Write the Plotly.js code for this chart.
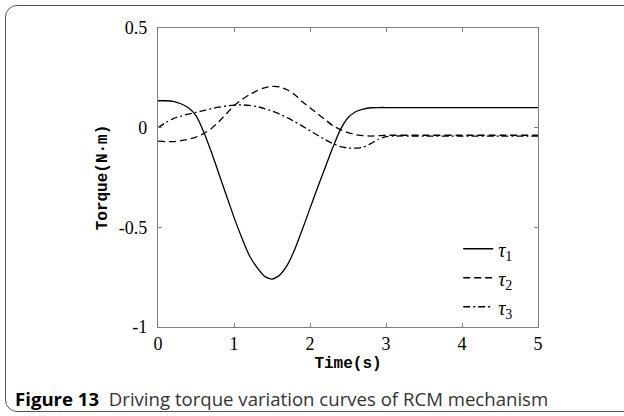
<!DOCTYPE html>
<html>
<head>
<meta charset="utf-8">
<script src="https://cdn.plot.ly/plotly-3.0.1.min.js"></script>
<style>
  html, body { margin: 0; padding: 0; background: #fff; }
  #wrap { position: relative; width: 624px; height: 416px; overflow: hidden; }
  #frame { position: absolute; left: 5px; top: 5px; width: 640px; height: 407px;
           border: 1.5px solid #555; border-radius: 12px; box-sizing: border-box; pointer-events: none; z-index: 2; }
  #chart { position: absolute; left: 0; top: 0; width: 624px; height: 416px; }
</style>
</head>
<body>
<div id="wrap"><div id="chart"></div><div id="frame"></div></div>
<script>
// Time (s)
const time = [0,0.1,0.2,0.3,0.4,0.5,0.6,0.7,0.8,0.9,1.0,1.1,1.2,1.3,1.4,1.5,1.6,1.7,1.8,1.9,2.0,
              2.1,2.2,2.3,2.4,2.5,2.6,2.7,2.8,2.9,3.0,3.1,3.5,4.0,4.5,5.0];
// Driving torques (N·m)
const tau1 = [0.135,0.135,0.132,0.12,0.1,0.06,-0.02,-0.12,-0.23,-0.34,-0.45,-0.55,-0.64,-0.7,-0.745,-0.76,
              -0.74,-0.69,-0.61,-0.51,-0.405,-0.3,-0.2,-0.1,-0.01,0.05,0.08,0.093,0.1,0.101,0.101,0.101,0.101,0.101,0.101,0.101];
const tau2 = [-0.068,-0.07,-0.07,-0.065,-0.058,-0.047,-0.03,-0.005,0.03,0.07,0.11,0.14,0.165,0.185,0.2,0.207,
              0.205,0.19,0.165,0.13,0.1,0.07,0.04,0.01,-0.01,-0.025,-0.035,-0.04,-0.042,-0.04,-0.038,-0.038,-0.038,-0.038,-0.038,-0.038];
const tau3 = [0,0.025,0.045,0.058,0.068,0.077,0.086,0.095,0.103,0.109,0.113,0.114,0.112,0.106,0.096,0.083,
              0.068,0.05,0.03,0.008,-0.015,-0.038,-0.06,-0.08,-0.095,-0.102,-0.103,-0.098,-0.08,-0.058,-0.045,-0.042,-0.042,-0.042,-0.042,-0.042];
const seriesNames = ['<i>τ</i><sub>1</sub>', '<i>τ</i><sub>2</sub>', '<i>τ</i><sub>3</sub>'];
const xTicks = [0,1,2,3,4,5];
const xTickText = ['0','1','2','3','4','5'];
const yTicks = [-1,-0.5,0,0.5];
const yTickText = ['-1','-0.5','0','0.5'];

const dashes = ['solid', '7px,4px', '7px,3px,2px,3px'];
const ys = [tau1, tau2, tau3];
const traces = ys.map((y, i) => ({
  x: time, y: y, type: 'scatter', mode: 'lines', name: seriesNames[i],
  line: { color: '#000', width: 1.3, dash: dashes[i], shape: 'spline', smoothing: 0.6 }
}));

const axisCommon = {
  showgrid: false, zeroline: false, showline: true, linecolor: '#808080', linewidth: 1.2,
  mirror: 'ticks', ticks: 'inside', ticklen: 4, tickcolor: '#808080', tickwidth: 1,
  tickfont: { family: 'Liberation Serif', size: 18, color: '#000' }
};

const layout = {
  width: 624, height: 416,
  margin: { l: 158, r: 86, t: 28, b: 89 },
  paper_bgcolor: '#fff', plot_bgcolor: '#fff',
  showlegend: true,
  legend: {
    x: 0.79, y: 0.327, xanchor: 'left', yanchor: 'top',
    bgcolor: 'rgba(0,0,0,0)', borderwidth: 0,
    font: { family: 'Liberation Serif', size: 20, color: '#000' },
    tracegroupgap: 0
  },
  xaxis: Object.assign({}, axisCommon, {
    range: [0, 5], tickvals: xTicks, ticktext: xTickText,
    title: { text: 'Time(s)', standoff: 4, font: { family: 'Liberation Mono', size: 16, color: '#000', weight: 'bold' } }
  }),
  yaxis: Object.assign({}, axisCommon, {
    range: [-1, 0.5], tickvals: yTicks, ticktext: yTickText, ticklabelstandoff: 6,
    title: { text: 'Torque(N·m)', standoff: 7, font: { family: 'Liberation Mono', size: 16, color: '#000', weight: 'bold' } }
  }),
  annotations: [{
    xref: 'paper', yref: 'paper', x: -0.3816, y: -0.2375, xanchor: 'left', yanchor: 'middle',
    showarrow: false,
    text: '<b style="color:#000">Figure 13</b>  Driving torque variation curves of RCM mechanism',
    font: { family: 'Open Sans', size: 18.6, color: '#333' }
  }]
};

Plotly.newPlot('chart', traces, layout, { displayModeBar: false, staticPlot: true });
</script>
</body>
</html>
